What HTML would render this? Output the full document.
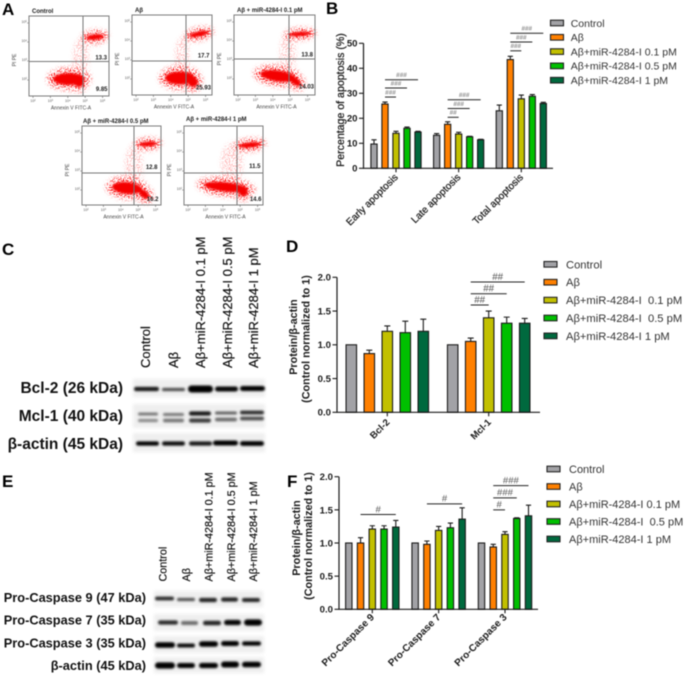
<!DOCTYPE html>
<html lang="en">
<head>
<meta charset="utf-8">
<title>Apoptosis figure</title>
<style>
html,body{margin:0;padding:0;background:#fff;width:685px;height:676px;overflow:hidden}
svg{display:block;filter:blur(0.4px)}
text{font-family:"Liberation Sans",sans-serif;fill:#1a1a1a;white-space:pre}
.panel{font-size:17px;font-weight:bold;fill:#000}
.blot{font-weight:bold;fill:#111}
.medium{stroke:#1a1a1a;stroke-width:0.25}
</style>
</head>
<body>
<svg id="fig" xmlns="http://www.w3.org/2000/svg" width="685" height="676" viewBox="0 0 685 676">
<defs>
<filter id="speck" x="-60%" y="-60%" width="220%" height="220%" color-interpolation-filters="sRGB">
<feGaussianBlur in="SourceGraphic" stdDeviation="2.4" result="soft"/>
<feTurbulence type="fractalNoise" baseFrequency="0.75" numOctaves="2" seed="7" result="noise"/>
<feColorMatrix in="noise" type="matrix" values="0 0 0 0 1  0 0 0 0 0  0 0 0 0 0  0 0 0 14 -7.4" result="dots"/>
<feComposite in="dots" in2="soft" operator="in"/>
<feGaussianBlur stdDeviation="0.15"/>
</filter>
<filter id="core" x="-40%" y="-40%" width="180%" height="180%"><feGaussianBlur stdDeviation="1.1"/></filter>
<filter id="band" x="-20%" y="-200%" width="140%" height="500%"><feGaussianBlur stdDeviation="1.1"/></filter>
<filter id="haze" x="-10%" y="-30%" width="120%" height="160%"><feGaussianBlur stdDeviation="1.5"/></filter>
</defs>

<text class="panel" x="2" y="15">A</text>
<text class="panel" x="326" y="14">B</text>
<text class="panel" x="2" y="255">C</text>
<text class="panel" x="286" y="252">D</text>
<text class="panel" x="2" y="487">E</text>
<text class="panel" x="287" y="487">F</text>

<g id="flow"></g>
<g id="blots"></g>
<g id="charts"></g>
</svg>

<script>
// ---------- Chart data ----------
const barColors = ['#a2a2a6', '#ff8000', '#c2c000', '#00c000', '#00693e'];

const bCategories = ['Early apoptosis', 'Late apoptosis', 'Total apoptosis'];
const bLegend = ['Control', 'A\u03b2', 'A\u03b2+miR-4284-I 0.1 pM', 'A\u03b2+miR-4284-I 0.5 pM', 'A\u03b2+miR-4284-I 1 pM'];
const bEarly = [9.7, 25.7, 14.0, 16.0, 14.5];
const bLate = [13.2, 17.6, 13.7, 12.6, 11.4];
const bTotal = [23.0, 43.5, 27.8, 28.8, 25.9];
const bEarlyErr = [1.7, 0.8, 0.8, 0.5, 0.3];
const bLateErr = [0.7, 1.0, 0.7, 0.2, 0.2];
const bTotalErr = [2.3, 1.3, 1.5, 0.7, 0.5];
const bTicks = [0, 10, 20, 30, 40, 50];
const bSignificance = [
  [0, 1, 2, 28.5, '###'], [0, 1, 3, 32.1, '###'], [0, 1, 4, 35.4, '###'],
  [1, 1, 2, 20.4, '##'], [1, 1, 3, 23.9, '###'], [1, 1, 4, 27.4, '###'],
  [2, 1, 2, 47.0, '###'], [2, 1, 3, 50.5, '###'], [2, 1, 4, 54.0, '###']
];

const dCategories = ['Bcl-2', 'Mcl-1'];
const dLegend = ['Control', 'A\u03b2', 'A\u03b2+miR-4284-I  0.1 pM', 'A\u03b2+miR-4284-I  0.5 pM', 'A\u03b2+miR-4284-I 1 pM'];
const dBcl2 = [1.0, 0.87, 1.2, 1.18, 1.2];
const dMcl1 = [1.0, 1.05, 1.4, 1.32, 1.32];
const dBcl2Err = [0, 0.05, 0.08, 0.17, 0.18];
const dMcl1Err = [0, 0.05, 0.1, 0.09, 0.07];
const dTicks = ['0.0', '0.5', '1.0', '1.5', '2.0'];
const dSignificance = [[1, 1, 2, 1.59, '##'], [1, 1, 3, 1.757, '##'], [1, 1, 4, 1.93, '##']];

const fCategories = ['Pro-Caspase 9', 'Pro-Caspase 7', 'Pro-Caspase 3'];
const fLegend = ['Control', 'A\u03b2', 'A\u03b2+miR-4284-I 0.1 pM', 'A\u03b2+miR-4284-I  0.5 pM', 'A\u03b2+miR-4284-I 1 pM'];
const fCasp9 = [1.0, 1.0, 1.21, 1.21, 1.24];
const fCasp7 = [1.0, 0.98, 1.19, 1.23, 1.36];
const fCasp3 = [1.0, 0.94, 1.13, 1.37, 1.41];
const fCasp9Err = [0, 0.08, 0.05, 0.05, 0.1];
const fCasp7Err = [0, 0.05, 0.06, 0.07, 0.17];
const fCasp3Err = [0, 0.04, 0.04, 0.01, 0.16];
const fTicks = ['0.0', '0.5', '1.0', '1.5', '2.0'];
const fSignificance = [[0, 1, 4, 1.43, '#'], [1, 1, 4, 1.59, '#'], [2, 1, 2, 1.5, '#'], [2, 1, 3, 1.68, '###'], [2, 1, 4, 1.865, '###']];

// ---------- Helpers ----------
const NS = 'http://www.w3.org/2000/svg';
function make(parent, tag, props, txt) {
  const node = document.createElementNS(NS, tag);
  for (const k in props) node.setAttribute(k, props[k]);
  if (txt !== undefined) node.textContent = txt;
  parent.appendChild(node);
  return node;
}
function slug(s) {
  return String(s).toLowerCase().replace(/\u03b2/g, 'beta').replace(/[^a-z0-9]+/g, '-').replace(/^-|-$/g, '');
}

// ---------- Bar chart ----------
function drawChart(o) {
  const g = make(document.getElementById('charts'), 'g', {});
  
  
  const yScale = v => o.y0 - v * o.pxPerUnit;
  const groupX = i => o.firstGroup + i * o.groupStep;
  const barX = (i, j) => groupX(i) + (j - 2) * o.barStep;

  o.series.forEach((vals, i) => {
    vals.forEach((v, j) => {
      const e = o.errors[i][j];
      if (e > 0) {
        const stem = make(g, 'path', {
          d: 'M' + barX(i, j) + ' ' + yScale(v) + 'V' + yScale(v + e) + 'm' + (-o.cap) + ' 0h' + (2 * o.cap),
          fill: 'none', stroke: '#1a1a1a', 'stroke-width': 1.1
        });
        
        
      }
      const bar = make(g, 'rect', {
        x: barX(i, j) - o.barW / 2 + 0.5, y: yScale(v),
        width: o.barW - 1, height: Math.max(0, o.y0 - yScale(v)),
        fill: barColors[j], stroke: '#1a1a1a', 'stroke-width': 1.1
      });
      
      
    });
  });

  const axes = make(g, 'path', {
    d: 'M' + o.axisX + ' ' + yScale(o.yMax) + 'V' + o.y0 + 'H' + o.xEnd,
    fill: 'none', stroke: '#1a1a1a', 'stroke-width': 1.2
  });
  
  

  o.ticks.forEach(t => {
    const v = parseFloat(t);
    const tick = make(g, 'line', {
      x1: o.axisX - 4.5, x2: o.axisX, y1: yScale(v), y2: yScale(v), stroke: '#1a1a1a', 'stroke-width': 1.1
    });
    
    
    const lab = make(g, 'text', {
      x: o.axisX - 6, y: yScale(v) + 3.4, 'text-anchor': 'end', 'font-size': o.tickFs, 'font-weight': 'bold'
    }, String(t));
    
    
  });

  o.categories.forEach((c, i) => {
    const tick = make(g, 'line', {
      x1: groupX(i), x2: groupX(i), y1: o.y0, y2: o.y0 + 4, stroke: '#1a1a1a', 'stroke-width': 1.1
    });
    
    
    const lx = groupX(i) + o.labelDx, ly = o.y0 + o.labelDy;
    const lab = make(g, 'text', {
      x: lx, y: ly, 'text-anchor': 'end', 'font-size': o.catFs,
      'font-weight': o.catWeight === 'bold' ? 'bold' : 'normal',
      class: o.catWeight === 'medium' ? 'medium' : '',
      transform: 'rotate(-45 ' + lx + ' ' + ly + ')'
    }, c);
    
    
  });

  o.significance.forEach(s => {
    const y = yScale(s[3]);
    const x1 = barX(s[0], s[1]), x2 = barX(s[0], s[2]);
    const line = make(g, 'line', { x1: x1, x2: x2, y1: y, y2: y, stroke: '#222', 'stroke-width': 1 });
    
    
    const t = make(g, 'text', {
      x: (x1 + x2) / 2, y: y - o.sigGap, 'text-anchor': 'middle', 'font-size': o.sigFs, style: 'fill:#555'
    }, s[4]);
    
    
  });

  o.titles.forEach(t => {
    const n = make(g, 'text', {
      x: t[0], y: t[1], 'text-anchor': 'middle', 'font-size': t[3],
      'font-weight': t[4] === 'bold' ? 'bold' : 'normal',
      class: t[4] === 'medium' ? 'medium' : '',
      transform: 'rotate(-90 ' + t[0] + ' ' + t[1] + ')'
    }, t[2]);
    
    
  });

  o.legend.forEach((name, j) => {
    const y = o.legendY + j * o.legendStep;
    const sw = make(g, 'rect', {
      x: o.legendX, y: y - 2.8, width: 13, height: 5.6, fill: barColors[j], stroke: '#222', 'stroke-width': 1.1
    });
    
    
    const t = make(g, 'text', {
      x: o.legendTextX, y: y + o.legendFs * 0.36, 'font-size': o.legendFs, style: 'fill:#333'
    }, name);
    
    
  });
}

drawChart({
  id: 'b', categories: bCategories, series: [bEarly, bLate, bTotal], errors: [bEarlyErr, bLateErr, bTotalErr],
  ticks: bTicks, significance: bSignificance, legend: bLegend,
  y0: 168.3, pxPerUnit: 2.5, yMax: 50, axisX: 363.5, xEnd: 553,
  firstGroup: 396, groupStep: 62.65, barStep: 11, barW: 7.2, cap: 2.6,
  tickFs: 9.6, catFs: 10, catWeight: 'medium', labelDx: 2.5, labelDy: 9.5,
  sigGap: 2.6, sigFs: 6.4,
  titles: [[344, 100, 'Percentage of apoptosis (%)', 10.6, 'medium']],
  legendX: 550.5, legendY: 23, legendStep: 14.3, legendTextX: 570.7, legendFs: 10.5
});

drawChart({
  id: 'd', categories: dCategories, series: [dBcl2, dMcl1], errors: [dBcl2Err, dMcl1Err],
  ticks: dTicks, significance: dSignificance, legend: dLegend,
  y0: 412.3, pxPerUnit: 67.5, yMax: 2, axisX: 337, xEnd: 540,
  firstGroup: 387.3, groupStep: 101.4, barStep: 18, barW: 11.5, cap: 3,
  tickFs: 9.6, catFs: 9.6, catWeight: 'bold', labelDx: 3, labelDy: 10.5,
  sigGap: 2.2, sigFs: 9.8,
  titles: [[297, 337, 'Protein/\u03b2-actin', 10.8, 'bold'], [309.5, 339, '(Control normalized to 1)', 10.8, 'bold']],
  legendX: 544, legendY: 264.3, legendStep: 17.9, legendTextX: 566, legendFs: 11.2
});

drawChart({
  id: 'f', categories: fCategories, series: [fCasp9, fCasp7, fCasp3], errors: [fCasp9Err, fCasp7Err, fCasp3Err],
  ticks: fTicks, significance: fSignificance, legend: fLegend,
  y0: 609.3, pxPerUnit: 66.3, yMax: 2, axisX: 339, xEnd: 538,
  firstGroup: 372.3, groupStep: 66.35, barStep: 11.75, barW: 7.4, cap: 2.6,
  tickFs: 9.6, catFs: 10, catWeight: 'bold', labelDx: 2.5, labelDy: 8.5,
  sigGap: 2.2, sigFs: 9.6,
  titles: [[300, 538, 'Protein/\u03b2-actin', 10.8, 'bold'], [312, 536, '(Control normalized to 1)', 10.8, 'bold']],
  legendX: 547, legendY: 469, legendStep: 17.5, legendTextX: 569, legendFs: 11
});

// ---------- Flow cytometry scatter panels ----------
const flowTitles = ['Control', 'A\u03b2', 'A\u03b2 + miR-4284-I 0.1 pM', 'A\u03b2 + miR-4284-I 0.5 pM', 'A\u03b2 + miR-4284-I 1 pM'];
const flowUpperRight = ['13.3', '17.7', '13.8', '12.8', '11.5'];
const flowLowerRight = ['9.85', '25.93', '14.03', '16.2', '14.6'];
const flowLayout = [
  { x: 29, y: 16, w: 80, h: 80, vx: 54, hy: 45.5, tx: 32, ty: 13, ux: 107, uy: 59.5, lx: 107.5, ly: 91,
    core: [[40, 63, 16, 6, 0], [50, 66, 5, 5, 20], [66, 21, 9, 2.8, -6]], trail: [52, 42, 8, 20] },
  { x: 132, y: 15, w: 80, h: 80, vx: 54, hy: 46, tx: 135, ty: 12, ux: 209.5, uy: 57.5, lx: 211, ly: 89.5,
    core: [[48, 63, 15, 6.5, 0], [61, 67, 5, 5, 35], [67, 19, 10, 2.6, -12]], trail: [50, 42, 7, 20] },
  { x: 234, y: 15, w: 81, h: 80, vx: 55, hy: 44, tx: 237, ty: 12, ux: 313, uy: 56.5, lx: 314, ly: 88.5,
    core: [[44, 61, 18, 5.5, 8], [61, 66, 7, 3.5, 38], [66, 19, 11, 2.2, -4]], trail: [54, 38, 8, 22] },
  { x: 82, y: 126, w: 79, h: 79, vx: 52, hy: 47, tx: 83, ty: 123, ux: 157.5, uy: 169, lx: 158.5, ly: 201,
    core: [[45, 62, 15, 6, 5], [62, 68, 6, 3.5, 42], [66, 18, 9, 2.4, -3]], trail: [52, 40, 9, 22] },
  { x: 184, y: 126, w: 79, h: 79, vx: 53, hy: 47, tx: 186, ty: 121, ux: 260.5, uy: 168, lx: 261.5, ly: 201,
    core: [[42, 61, 22, 4.8, 6], [59, 66, 5, 4, 25], [66, 19, 11, 2.6, -6]], trail: [48, 38, 11, 22] }
];
const flowDecades = ['10\u00b2', '10\u00b3', '10\u2074', '10\u2075', '10\u2076'];

(function () {
  const root = document.getElementById('flow');
  flowLayout.forEach((p, idx) => {
    const g = make(root, 'g', {});
    
    

    const sp = make(g, 'g', { filter: 'url(#speck)', transform: 'translate(' + p.x + ' ' + p.y + ')', fill: '#ff0000' });
    
    
    p.core.forEach(c => {
      make(sp, 'ellipse', { cx: c[0], cy: c[1], rx: c[2] * 1.2 + 3, ry: c[3] * 1.3 + 3.5,
        transform: 'rotate(' + c[4] + ' ' + c[0] + ' ' + c[1] + ')' });
    });
    make(sp, 'ellipse', { cx: p.trail[0], cy: p.trail[1], rx: p.trail[2], ry: p.trail[3], opacity: 0.3 });

    const cg = make(g, 'g', { filter: 'url(#core)', transform: 'translate(' + p.x + ' ' + p.y + ')', fill: '#f40000' });
    
    
    p.core.forEach(c => {
      make(cg, 'ellipse', { cx: c[0], cy: c[1], rx: c[2], ry: c[3],
        transform: 'rotate(' + c[4] + ' ' + c[0] + ' ' + c[1] + ')' });
    });

    const frame = make(g, 'rect', { x: p.x, y: p.y, width: p.w, height: p.h, fill: 'none', stroke: '#7c7c7c', 'stroke-width': 1 });
    
    
    const q = make(g, 'path', {
      d: 'M' + (p.x + p.vx) + ' ' + p.y + 'v' + p.h + 'M' + p.x + ' ' + (p.y + p.hy) + 'h' + p.w,
      fill: 'none', stroke: '#777', 'stroke-width': 1
    });
    
    

    flowDecades.forEach((d, k) => {
      const tx = p.x + 4 + k * 17.4;
      const xl = make(g, 'text', { x: tx, y: p.y + p.h + 6, 'text-anchor': 'middle', 'font-size': 3.6, style: 'fill:#555' }, d);
      
      
      if (k < 4) {
        const yy = p.y + 7 + k * 19;
        const yl = make(g, 'text', { x: p.x - 2, y: yy, 'text-anchor': 'end', 'font-size': 3.6, style: 'fill:#555' }, flowDecades[3 - k]);
        
        
      }
    });

    const ticks = make(g, 'path', {
      d: [0, 1, 2, 3, 4].map(k => 'M' + (p.x + 4 + k * 17.4) + ' ' + (p.y + p.h) + 'v2').join('') +
         [0, 1, 2, 3].map(k => 'M' + p.x + ' ' + (p.y + 7 + k * 19) + 'h-2').join(''),
      stroke: '#666', 'stroke-width': 0.6, fill: 'none'
    });
    
    

    const title = make(g, 'text', { x: p.tx, y: p.ty, 'font-size': 6, 'font-weight': 'bold' }, flowTitles[idx]);
    
    
    const n1 = make(g, 'text', { x: p.ux, y: p.uy, 'text-anchor': 'end', 'font-size': 6, 'font-weight': 'bold' }, flowUpperRight[idx]);
    
    
    const n2 = make(g, 'text', { x: p.lx, y: p.ly, 'text-anchor': 'end', 'font-size': 6, 'font-weight': 'bold' }, flowLowerRight[idx]);
    
    
    const xt = make(g, 'text', { x: p.x + p.w / 2 + 2, y: p.y + p.h + 13.5, 'text-anchor': 'middle', 'font-size': 5, style: 'fill:#444' }, 'Annexin V FITC-A');
    
    
    const yx = p.x - 13, yy = p.y + 44;
    const yt = make(g, 'text', { x: yx, y: yy, 'text-anchor': 'middle', 'font-size': 5, style: 'fill:#444', transform: 'rotate(-90 ' + yx + ' ' + yy + ')' }, 'PI PE');
    
    
  });
})();

// ---------- Western blots ----------
const cRowLabels = ['Bcl-2 (26 kDa)', 'Mcl-1 (40 kDa)', '\u03b2-actin (45 kDa)'];
const cColumns = ['Control', 'A\u03b2', 'A\u03b2+miR-4284-I 0.1 pM', 'A\u03b2+miR-4284-I 0.5 pM', 'A\u03b2+miR-4284-I 1 pM'];
const eRowLabels = ['Pro-Caspase 9 (47 kDa)', 'Pro-Caspase 7 (35 kDa)', 'Pro-Caspase 3 (35 kDa)', '\u03b2-actin (45 kDa)'];
const eColumns = cColumns;

function blotPanel(cfg) {
  const root = document.getElementById('blots');
  const g = make(root, 'g', {});
  
  

  cfg.cols.forEach((c, i) => {
    const t = make(g, 'text', {
      x: cfg.colX[i], y: cfg.colY, 'font-size': cfg.colFs, style: 'fill:#111',
      stroke: '#111', 'stroke-width': 0.2, transform: 'rotate(-90 ' + cfg.colX[i] + ' ' + cfg.colY + ')'
    }, c);
    
    
  });

  cfg.rows.forEach((r, i) => {
    const lab = make(g, 'text', { class: 'blot', x: cfg.labelX, y: cfg.labelY[i], 'text-anchor': 'end', 'font-size': cfg.labelFs }, r);
    
    
    const bg = cfg.bg[i];
    const haze = make(g, 'rect', { x: bg[0], y: bg[1], width: bg[2], height: bg[3], fill: '#efefef', filter: 'url(#haze)' });
    
    
    const bands = make(g, 'g', { filter: 'url(#band)' });
    
    
    cfg.bands[i].forEach(b => {
      make(bands, 'rect', { x: b[0], y: b[1] - b[3] * 0.7, width: b[2], height: b[3] * 1.4, rx: b[3] * 0.7, fill: '#000', opacity: b[4] });
    });
  });
}

blotPanel({
  id: 'c', rows: cRowLabels, cols: cColumns, colFs: 13,
  colX: [150, 178, 205, 232, 258], colY: 368,
  labelX: 123, labelY: [393, 421, 449], labelFs: 15.5,
  bg: [[133, 379, 132, 18], [133, 404, 132, 24], [133, 433, 132, 19]],
  bands: [
    [[134, 389, 25, 3, .9], [162, 389.5, 23, 2.4, .68], [188, 389, 25, 5, 1], [215, 389, 23, 3.6, .98], [240, 388.5, 25, 3.6, 1]],
    [[138, 414, 20, 2.2, .5], [138, 420.5, 20, 2.4, .42], [163, 414.5, 21, 2.2, .5], [163, 420.5, 21, 2.6, .5], [189, 413.5, 22, 3, .9], [189, 420.5, 22, 3, .75], [215, 413, 22, 2.2, .6], [215, 419.5, 22, 2.6, .55], [240, 412.5, 24, 2.6, .82], [240, 418.5, 24, 2.6, .68]],
    [[136, 443.5, 23, 3, 1], [162, 443.5, 23, 3, .95], [189, 443.5, 23, 3, .9], [213, 443, 25, 3.6, 1], [240, 443.5, 24, 3.4, 1]]
  ]
});

blotPanel({
  id: 'e', rows: eRowLabels, cols: eColumns, colFs: 10.8,
  colX: [166.5, 190, 212.5, 235, 257], colY: 581.5,
  labelX: 146, labelY: [602, 624.3, 647.3, 670], labelFs: 12.8,
  bg: [[154, 591, 109, 16], [154, 614, 110, 17], [154, 636, 110, 17], [154, 657, 110, 16]],
  bands: [
    [[155, 598.5, 19, 2.6, .82], [177, 599.5, 18, 2.4, .65], [199, 600, 18, 3, .85], [221, 599.5, 17, 3, .85], [242, 600, 18, 2.8, .85]],
    [[158, 622.5, 20, 3, .82], [181, 623, 17, 2.8, .55], [203, 623, 18, 3.2, .85], [224, 622.5, 17, 3.8, .98], [244, 622.5, 18, 4.4, 1]],
    [[155, 645, 20, 4, 1], [177, 645.5, 18, 2.8, .95], [199, 644, 19, 4, 1], [221, 643.5, 18, 3.6, 1], [242, 643.5, 19, 3, 1]],
    [[155, 665.5, 20, 4.4, 1], [177, 665.5, 18, 3.6, 1], [199, 665.5, 19, 3.8, 1], [221, 664.5, 18, 4.2, 1], [242, 664.5, 19, 4, 1]]
  ]
});
</script>
</body>
</html>
